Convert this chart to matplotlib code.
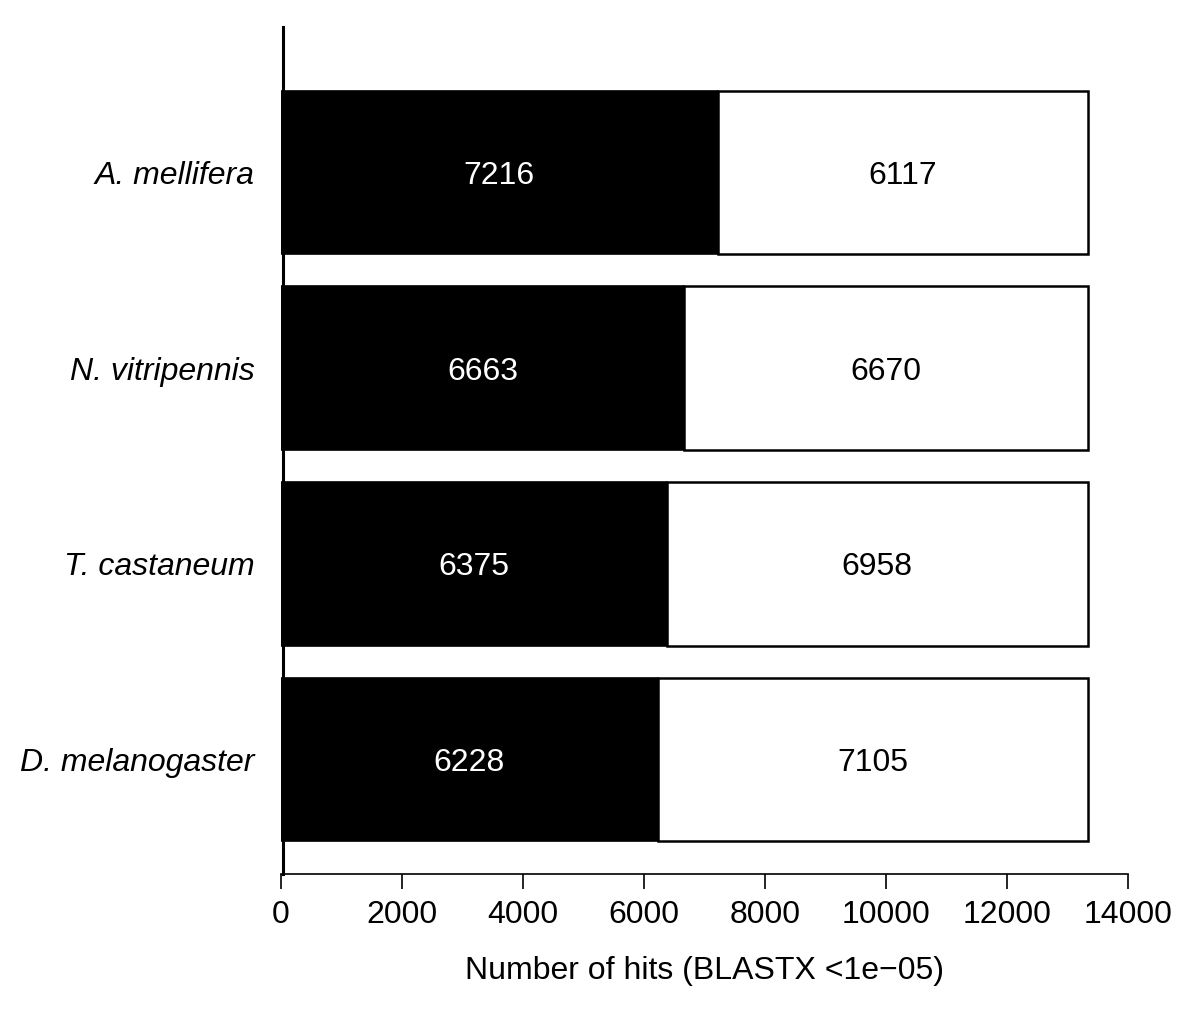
import matplotlib.pyplot as plt

species = ['D. melanogaster', 'T. castaneum', 'N. vitripennis', 'A. mellifera']
hits_black = [6228, 6375, 6663, 7216]
hits_white = [7105, 6958, 6670, 6117]
xticks = [0, 2000, 4000, 6000, 8000, 10000, 12000, 14000]

plt.rcParams['font.family'] = ['Liberation Sans', 'DejaVu Sans']
fs = 23

W, H = 1200, 1015
fig = plt.figure(figsize=(W / 100, H / 100), dpi=100)
ax = fig.add_axes([281 / W, (H - 874) / H, (1128 - 281) / W, (874 - 27) / H])

ys = [0.7 + 1.2 * i for i in range(len(species))]
ax.barh(ys, hits_black, height=1, color='black', edgecolor='black', linewidth=1.2)
ax.barh(ys, hits_white, left=hits_black, height=1, color='white',
        edgecolor='black', linewidth=1.8)

for y, b, w in zip(ys, hits_black, hits_white):
    ax.text(b / 2, y, str(b), color='white', ha='center', va='center_baseline', fontsize=fs)
    ax.text(b + w / 2, y, str(w), color='black', ha='center', va='center_baseline', fontsize=fs)

ax.set_xlim(0, 14000)
ax.set_ylim(0, 5.19)
for s in ['top', 'right', 'left']:
    ax.spines[s].set_visible(False)
ax.spines['bottom'].set_linewidth(1.2)
ax.spines['bottom'].set_bounds(0, 14000)
ax.plot([30, 30], [0, 5.19], color='black', linewidth=2.2, clip_on=False, zorder=5)

ax.set_xticks(xticks)
ax.set_xticklabels([str(t) for t in xticks], fontsize=fs)
ax.tick_params(axis='x', length=11, width=1.2, pad=7.5)
ax.set_yticks(ys)
ax.set_yticklabels(species, fontsize=fs, style='italic')
ax.tick_params(axis='y', length=0, pad=19)
ax.set_xlabel('Number of hits (BLASTX <1e\u221205)', fontsize=fs, labelpad=19)

fig.savefig('out.png', dpi=100)
